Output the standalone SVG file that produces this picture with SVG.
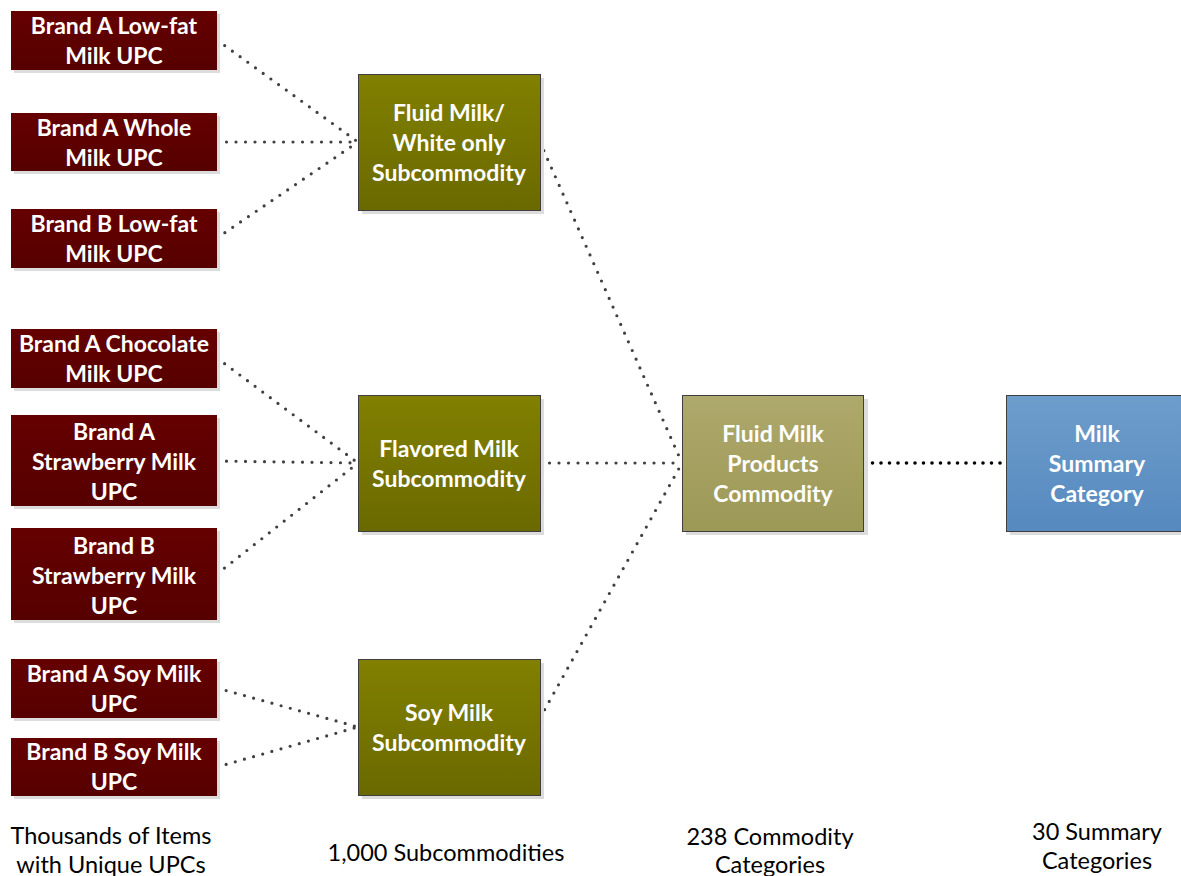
<svg xmlns="http://www.w3.org/2000/svg" width="1181" height="876" viewBox="0 0 1181 876">
<defs>
<linearGradient id="gRed" x1="0" y1="0" x2="0" y2="1"><stop offset="0" stop-color="#650000"/><stop offset="1" stop-color="#560000"/></linearGradient>
<linearGradient id="gOlive" x1="0" y1="0" x2="0" y2="1"><stop offset="0" stop-color="#818000"/><stop offset="1" stop-color="#6a6900"/></linearGradient>
<linearGradient id="gKhaki" x1="0" y1="0" x2="0" y2="1"><stop offset="0" stop-color="#aea96c"/><stop offset="1" stop-color="#9c9856"/></linearGradient>
<linearGradient id="gBlue" x1="0" y1="0" x2="0" y2="1"><stop offset="0" stop-color="#6d9dcb"/><stop offset="1" stop-color="#5689bf"/></linearGradient>
</defs>
<style>
.sh{fill:#dcdcdc}
.red{fill:url(#gRed)}
.olive{fill:url(#gOlive);stroke:#3f3f3f;stroke-width:1}
.khaki{fill:url(#gKhaki);stroke:#3f3f3f;stroke-width:1}
.blue{fill:url(#gBlue);stroke:#3f3f3f;stroke-width:1}
.t{font-family:Lato,"Open Sans",sans-serif;font-weight:bold;font-size:23px;fill:#fff;text-anchor:middle;dominant-baseline:central}
.lbl{font-family:Lato,"Open Sans",sans-serif;font-size:23.5px;fill:#000;text-anchor:middle;dominant-baseline:central}
.c{fill:none;stroke:#404040;stroke-width:3.2;stroke-linecap:round;stroke-dasharray:0 9.5}
.c2{fill:none;stroke:#000;stroke-width:3.6;stroke-linecap:round;stroke-dasharray:0 8.5}
</style>
<rect width="1181" height="876" fill="#fff"/>
<g id="connectors">
<path class="c" d="M217,40 L358,142"/>
<path class="c" d="M217,142 L358,142"/>
<path class="c" d="M217,238 L358,142"/>
<path class="c" d="M217,358 L358,463"/>
<path class="c" d="M217,461 L358,463"/>
<path class="c" d="M217,574 L358,463"/>
<path class="c" d="M217,688 L358,727"/>
<path class="c" d="M217,767 L358,727"/>
<path class="c" d="M540,142 L682,463"/>
<path class="c" d="M540,463 L682,463"/>
<path class="c" d="M540,718 L682,463"/>
<path class="c2" d="M864,463 L1006,463"/>
</g>
<g id="n1"><rect class="sh" x="14" y="14" width="206" height="59"/><rect class="red" x="11" y="11" width="206" height="59"/><text class="t" x="114" y="25">Brand A Low-fat</text><text class="t" x="114" y="55">Milk UPC</text></g>
<g id="n2"><rect class="sh" x="14" y="116" width="206" height="58"/><rect class="red" x="11" y="113" width="206" height="58"/><text class="t" x="114" y="127">Brand A Whole</text><text class="t" x="114" y="157">Milk UPC</text></g>
<g id="n3"><rect class="sh" x="14" y="212" width="206" height="59"/><rect class="red" x="11" y="209" width="206" height="59"/><text class="t" x="114" y="223">Brand B Low-fat</text><text class="t" x="114" y="253">Milk UPC</text></g>
<g id="n4"><rect class="sh" x="14" y="332" width="206" height="59"/><rect class="red" x="11" y="329" width="206" height="59"/><text class="t" x="114" y="343">Brand A Chocolate</text><text class="t" x="114" y="373">Milk UPC</text></g>
<g id="n5"><rect class="sh" x="14" y="418" width="206" height="91"/><rect class="red" x="11" y="415" width="206" height="91"/><text class="t" x="114" y="431">Brand A</text><text class="t" x="114" y="461">Strawberry Milk</text><text class="t" x="114" y="491">UPC</text></g>
<g id="n6"><rect class="sh" x="14" y="531" width="206" height="92"/><rect class="red" x="11" y="528" width="206" height="92"/><text class="t" x="114" y="545">Brand B</text><text class="t" x="114" y="575">Strawberry Milk</text><text class="t" x="114" y="605">UPC</text></g>
<g id="n7"><rect class="sh" x="14" y="662" width="206" height="59"/><rect class="red" x="11" y="659" width="206" height="59"/><text class="t" x="114" y="673">Brand A Soy Milk</text><text class="t" x="114" y="703">UPC</text></g>
<g id="n8"><rect class="sh" x="14" y="741" width="206" height="58"/><rect class="red" x="11" y="738" width="206" height="58"/><text class="t" x="114" y="751">Brand B Soy Milk</text><text class="t" x="114" y="781">UPC</text></g>
<g id="s1"><rect class="sh" x="362" y="78" width="182" height="136"/><rect class="olive" x="358.5" y="74.5" width="182" height="136"/><text class="t" x="449" y="112">Fluid Milk/</text><text class="t" x="449" y="142">White only</text><text class="t" x="449" y="172">Subcommodity</text></g>
<g id="s2"><rect class="sh" x="362" y="399" width="182" height="136"/><rect class="olive" x="358.5" y="395.5" width="182" height="136"/><text class="t" x="449" y="448">Flavored Milk</text><text class="t" x="449" y="478">Subcommodity</text></g>
<g id="s3"><rect class="sh" x="362" y="663" width="182" height="136"/><rect class="olive" x="358.5" y="659.5" width="182" height="136"/><text class="t" x="449" y="712">Soy Milk</text><text class="t" x="449" y="742">Subcommodity</text></g>
<g id="commodity"><rect class="sh" x="686" y="399" width="182" height="136"/><rect class="khaki" x="682.5" y="395.5" width="181" height="136"/><text class="t" x="773" y="433">Fluid Milk</text><text class="t" x="773" y="463">Products</text><text class="t" x="773" y="493">Commodity</text></g>
<g id="summary"><rect class="sh" x="1010" y="399" width="182" height="136"/><rect class="blue" x="1006.5" y="395.5" width="182" height="136"/><text class="t" x="1097" y="433">Milk</text><text class="t" x="1097" y="463">Summary</text><text class="t" x="1097" y="493">Category</text></g>
<g id="labels">
<text class="lbl" x="111" y="835">Thousands of Items</text><text class="lbl" x="111" y="864">with Unique UPCs</text>
<text class="lbl" x="446" y="852">1,000 Subcommodities</text>
<text class="lbl" x="770" y="836">238 Commodity</text><text class="lbl" x="770" y="864">Categories</text>
<text class="lbl" x="1097" y="831">30 Summary</text><text class="lbl" x="1097" y="860">Categories</text>
</g>
</svg>
